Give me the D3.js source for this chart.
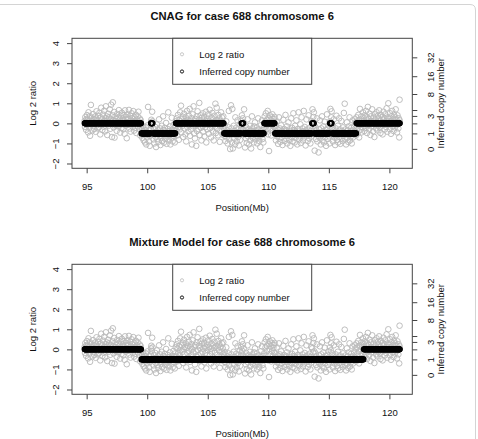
<!DOCTYPE html>
<html><head><meta charset="utf-8">
<script src="https://cdn.jsdelivr.net/npm/d3@7"></script>
<style>
html,body{margin:0;padding:0;background:#fff;}
svg{display:block;font-family:"Liberation Sans",Arial,Helvetica,sans-serif;}
</style></head><body>
<svg id="chart" width="478" height="439"></svg>
<script>
// ---------------- DATA ----------------
const panelTitles = ["CNAG for case 688 chromosome 6", "Mixture Model for case 688 chromosome 6"];
const xAxisTitle = "Position(Mb)";
const yAxisTitle = "Log 2 ratio";
const y2AxisTitle = "Inferred copy number";
const legendLabels = ["Log 2 ratio", "Inferred copy number"];
const xTicks = [95, 100, 105, 110, 115, 120];
const yTicks = [-2, -1, 0, 1, 2, 3, 4];
const cnTicks = [0, 1, 2, 3, 4, 8, 16, 32];
const cnTickLabels = ["0", "1", "", "3", "", "8", "16", "32"];
const xLimits = [94.83, 120.85];
const yLimits = [-2, 4];
const tumourFraction = 2 - Math.SQRT2;

// probe positions (Mb) and log2 ratios (same probes in both panels)
const probePositions = [
94.83,94.86,94.89,94.92,94.95,94.99,95.02,95.05,95.08,95.12,95.15,95.18,95.22,95.25,95.28,95.31,95.35,95.38,95.42,95.46,95.49,95.53,95.56,95.6,95.63,95.67,95.7,95.74,95.77,95.81,95.84,95.88,95.91,95.95,95.98,
96.02,96.05,96.09,96.12,96.16,96.2,96.23,96.27,96.3,96.34,96.37,96.41,96.45,96.48,96.52,96.55,96.59,96.62,96.66,96.7,96.73,96.77,96.8,96.84,96.88,96.91,96.95,96.98,
97.02,97.05,97.09,97.13,97.16,97.2,97.23,97.27,97.3,97.34,97.38,97.41,97.45,97.48,97.52,97.55,97.59,97.63,97.66,97.7,97.73,97.77,97.81,97.84,97.88,97.91,97.95,97.99,
98.02,98.06,98.09,98.13,98.17,98.2,98.24,98.27,98.31,98.35,98.38,98.42,98.45,98.49,98.53,98.56,98.6,98.63,98.67,98.71,98.74,98.78,98.81,98.85,98.89,98.92,98.96,98.99,
99.03,99.06,99.1,99.14,99.17,99.21,99.24,99.28,99.31,99.35,99.39,99.42,99.46,99.49,
99.53,99.57,99.6,99.64,99.67,99.71,99.74,99.78,99.82,99.85,99.89,99.92,99.96,100.0,100.03,100.07,100.1,100.14,100.17,100.21,100.25,100.28,
100.31,100.34,100.37,100.41,100.44,100.48,100.52,100.55,100.59,100.62,100.66,100.7,100.73,100.77,100.8,100.84,100.88,100.91,100.95,100.98,
101.02,101.06,101.09,101.13,101.16,101.2,101.24,101.27,101.31,101.34,101.38,101.42,101.45,101.49,101.52,101.56,101.6,101.63,101.67,101.7,101.74,101.78,101.81,101.85,101.88,101.92,101.96,101.99,
102.03,102.06,102.1,102.14,102.17,102.21,102.25,102.28,102.32,
102.36,102.4,102.43,102.47,102.5,102.54,102.57,102.61,102.65,102.68,102.72,102.75,102.79,102.82,102.86,102.9,102.93,102.97,
103.0,103.04,103.08,103.11,103.15,103.18,103.22,103.26,103.29,103.33,103.36,103.4,103.44,103.47,103.51,103.54,103.58,103.62,103.65,103.69,103.72,103.76,103.8,103.83,103.87,103.9,103.94,103.98,
104.01,104.05,104.08,104.12,104.16,104.19,104.23,104.26,104.3,104.34,104.37,104.41,104.44,104.48,104.52,104.55,104.59,104.62,104.66,104.7,104.73,104.77,104.8,104.84,104.88,104.91,104.95,104.98,
105.02,105.06,105.09,105.13,105.16,105.2,105.24,105.27,105.31,105.34,105.38,105.42,105.45,105.49,105.52,105.56,105.6,105.63,105.67,105.7,105.74,105.78,105.81,105.85,105.88,105.92,105.96,105.99,
106.03,106.06,106.1,106.14,106.17,106.21,106.24,106.28,106.31,
106.35,106.38,106.42,106.46,106.49,106.53,106.56,106.6,106.64,106.67,106.71,106.74,106.78,106.82,106.85,106.89,106.92,106.96,
107.0,107.03,107.07,107.1,107.14,107.18,107.21,107.25,107.28,107.32,107.36,107.39,107.43,107.46,107.5,107.54,107.57,107.61,107.64,107.68,107.72,107.75,107.79,107.82,107.86,107.9,107.93,107.97,
108.0,108.04,108.08,108.11,108.15,108.18,108.22,108.26,108.29,108.33,108.36,108.4,108.44,108.47,108.51,108.54,108.58,108.62,108.65,108.69,108.72,108.76,108.8,108.83,108.87,108.9,108.94,108.98,
109.01,109.05,109.08,109.12,109.16,109.19,109.23,109.26,109.3,109.34,109.37,109.41,109.44,109.48,109.52,109.55,109.59,109.62,
109.66,109.7,109.73,109.77,109.8,109.84,109.88,109.91,109.95,109.98,110.02,110.06,110.09,110.13,110.16,110.2,110.24,110.27,110.31,110.34,110.38,110.42,110.45,110.49,110.52,
110.56,110.6,110.63,110.67,110.7,110.74,110.77,110.81,110.85,110.88,110.92,110.95,110.99,
111.03,111.06,111.1,111.13,111.17,111.21,111.24,111.28,111.31,111.35,111.39,111.42,111.46,111.49,111.53,111.57,111.6,111.64,111.67,111.71,111.75,111.78,111.82,111.85,111.89,111.93,111.96,
112.0,112.03,112.07,112.11,112.14,112.18,112.21,112.25,112.29,112.32,112.36,112.39,112.43,112.47,112.5,112.54,112.57,112.61,112.65,112.68,112.72,112.75,112.79,112.83,112.86,112.9,112.93,112.97,
113.01,113.04,113.08,113.11,113.15,113.19,113.22,113.26,113.29,113.33,113.37,113.4,113.44,113.47,113.51,113.55,113.58,113.62,113.65,113.69,113.72,113.76,113.8,113.83,113.87,113.9,113.94,113.97,
114.01,114.05,114.08,114.12,114.15,114.19,114.23,114.26,114.3,114.33,114.37,114.41,114.44,114.48,114.51,114.55,114.59,114.62,114.66,114.69,114.73,114.77,114.8,114.84,114.87,114.91,114.95,114.98,
115.02,115.05,115.09,115.13,115.16,115.2,115.23,115.27,115.31,115.34,115.38,115.41,115.45,115.49,115.52,115.56,115.59,115.63,115.67,115.7,115.74,115.77,115.81,115.85,115.88,115.92,115.95,115.99,
116.03,116.06,116.1,116.13,116.17,116.21,116.24,116.28,116.31,116.35,116.39,116.42,116.46,116.49,116.53,116.57,116.6,116.64,116.67,116.71,116.75,116.78,116.82,116.85,116.89,116.93,116.96,
117.0,117.03,117.07,117.1,117.14,117.17,117.21,117.25,117.28,117.32,117.35,117.39,117.43,117.46,117.5,117.53,117.57,117.61,117.64,117.68,117.71,117.75,117.79,117.82,117.86,117.89,117.93,117.97,
118.0,118.04,118.07,118.11,118.15,118.18,118.22,118.25,118.29,118.33,118.36,118.4,118.43,118.47,118.51,118.54,118.58,118.61,118.65,118.69,118.72,118.76,118.79,118.83,118.87,118.9,118.94,118.97,
119.01,119.05,119.08,119.12,119.15,119.19,119.23,119.26,119.3,119.33,119.37,119.41,119.44,119.48,119.51,119.55,119.59,119.62,119.66,119.69,119.73,119.77,119.8,119.84,119.87,119.91,119.95,119.98,
120.02,120.05,120.09,120.13,120.16,120.2,120.23,120.27,120.31,120.34,120.38,120.41,120.45,120.49,120.52,120.56,120.59,120.63,120.67,120.7,120.74,120.77,120.81,120.84,120.85
];
const log2Ratios = [
0.12,-0.18,0.31,0.05,-0.32,0.22,0.41,-0.08,0.18,-0.45,0.55,0.02,-0.21,0.36,-0.62,0.14,0.92,-0.05,0.27,-0.35,0.08,0.46,-0.14,0.19,-0.28,0.33,0.01,-0.42,0.24,0.6,-0.1,0.15,-0.25,0.38,0.03,
-0.19,0.52,0.1,-0.55,0.29,0.78,-0.06,0.2,-0.33,0.44,0.07,-0.16,0.63,0.12,-0.4,0.26,0.85,-0.02,0.35,-0.58,0.17,0.48,-0.12,0.3,0.04,0.7,-0.27,0.21,
0.93,0.09,-0.68,0.4,1.05,0.16,-0.2,0.57,-0.71,0.11,0.34,-0.09,0.25,-0.37,0.47,0.06,-0.15,0.28,0.66,-0.04,0.19,-0.46,0.38,0.1,-0.23,0.53,0.0,0.23,
-0.3,0.42,0.13,-0.52,0.65,0.05,-0.11,0.32,-0.74,0.18,0.45,-0.07,0.22,0.67,-0.26,0.09,0.37,-0.41,0.14,0.5,-0.03,0.26,-0.18,0.61,0.07,-0.36,0.3,0.12,
-0.22,0.43,-0.48,0.2,0.02,0.35,-0.15,0.58,0.1,-0.29,0.24,-0.6,0.16,-0.05,
-0.55,-0.28,-0.72,-0.4,-0.15,-0.85,-0.5,-0.33,-0.95,-0.6,-0.2,-1.05,-0.44,-0.7,-0.1,0.82,-0.58,-0.9,-0.36,-1.12,-0.62,-0.25,
0.05,0.18,-0.08,0.58,0.1,-0.47,-0.8,-0.3,-1.0,-0.52,-0.18,-0.68,-1.18,-0.41,-0.05,-0.77,-0.35,-0.92,-0.55,0.2,
-0.64,-0.25,-1.08,-0.45,-0.7,-0.12,-0.88,-0.5,0.35,-0.33,-0.96,-0.6,-0.22,-0.78,-0.4,0.02,-1.02,-0.48,-0.66,-0.28,0.55,-0.85,-0.38,-0.58,-0.15,-1.05,-0.44,-0.72,
0.28,-0.32,-0.9,-0.52,-0.08,-0.63,-0.37,-0.95,-0.2,
0.1,-0.35,0.25,-0.6,0.05,0.42,-0.18,-0.82,0.15,-0.3,0.55,-0.05,0.88,-0.45,0.2,-0.12,0.33,-0.68,
0.02,0.48,-0.25,0.12,-0.55,0.3,-0.9,0.07,0.62,-0.2,0.18,-0.4,0.38,-0.08,0.72,-0.62,0.1,-0.3,0.26,-1.05,0.0,0.45,-0.15,0.85,-0.5,0.14,-0.75,0.22,
-0.1,-1.12,0.35,-0.38,0.6,-0.02,-0.28,0.18,1.02,-0.58,0.08,0.4,-0.22,-0.85,0.28,-0.12,0.5,-0.42,0.04,0.32,-0.65,0.15,-0.18,0.58,-0.95,0.1,-0.3,0.24,
-0.05,0.45,-0.52,0.12,0.68,-0.24,0.03,-0.7,0.3,-0.1,0.52,-0.4,0.2,-0.85,0.06,0.38,-0.16,0.98,-0.48,0.15,0.78,-0.28,0.09,-0.6,0.42,-0.05,0.25,-0.92,
0.12,-0.35,0.55,-0.14,0.3,-0.55,0.05,0.35,-0.22,
-0.3,-0.62,-0.15,-0.88,-0.45,0.1,-0.7,-0.35,-1.0,-0.52,-0.2,0.62,-0.8,-0.4,-1.28,-0.58,0.9,-0.25,
-0.95,0.72,-1.25,-0.48,-0.12,-0.75,-0.38,-1.05,0.3,-0.6,-0.22,-0.9,-0.45,0.15,-0.68,-0.3,-1.1,-0.5,-0.05,-0.82,-0.35,0.12,-0.2,0.4,-0.08,0.25,-0.3,0.05,
0.7,-0.55,-1.2,-0.4,-0.75,-0.18,-0.98,-0.5,0.2,-0.65,-0.3,-1.05,-0.45,-0.12,-0.85,-0.38,-1.25,-0.6,0.35,-0.25,-0.72,-0.42,-0.95,-0.15,-0.55,0.05,-0.8,-0.35,
-0.62,-0.2,-1.0,-0.48,0.25,-0.7,-0.3,-0.88,-0.52,-1.18,-0.1,-0.6,-0.4,0.15,-0.78,-0.33,-0.95,-0.5,
-0.2,0.35,-0.45,0.1,0.5,-0.3,0.18,-0.08,0.62,-0.55,0.25,-1.38,0.02,0.4,-0.25,0.15,-0.6,0.3,-0.1,0.45,-0.35,0.08,0.22,-0.18,0.32,
-0.5,-0.2,-0.85,-0.4,0.1,-0.65,-0.3,-1.02,-0.48,0.3,-0.75,-0.25,-0.92,
-0.55,-0.1,-0.7,-0.38,-1.08,-0.45,0.18,-0.6,-0.28,-0.88,-0.52,0.42,-0.35,-0.78,-0.15,-1.0,-0.45,-0.62,0.05,-0.82,-0.3,-0.55,-1.12,-0.4,0.25,-0.68,-0.22,
-0.9,-0.48,0.5,-0.6,-0.33,-0.95,-0.12,-0.72,-0.42,0.15,-0.58,-1.05,-0.28,-0.5,0.55,-0.8,-0.36,-0.65,-0.05,-0.98,-0.45,0.3,-0.62,-0.25,-0.85,-0.4,0.62,-0.7,
-0.18,-0.52,-1.1,-0.35,0.2,-0.6,-0.3,-0.88,-0.45,0.4,-0.75,-0.22,-0.55,-1.0,-0.38,0.12,-0.65,0.05,0.7,-0.15,0.32,0.55,-0.1,-1.36,-0.5,-0.2,-0.78,-0.35,
0.25,-0.9,-0.45,-0.62,-1.45,-0.3,-0.72,0.15,-0.52,-1.05,-0.25,-0.6,0.35,-0.85,-0.4,-0.15,-0.95,-0.48,0.08,-0.7,-0.32,-1.12,-0.55,0.45,-0.28,-0.78,-0.42,-0.1,
-0.65,-1.0,0.1,0.72,-0.05,0.3,0.6,-0.2,-0.58,-0.9,-0.35,0.2,-0.7,-0.42,-1.08,-0.25,-0.6,0.38,-0.82,-0.45,-0.12,-0.95,-0.5,0.25,-0.68,-0.3,-1.02,-0.55,
0.12,-0.75,-0.38,-0.88,-0.2,-0.62,0.52,-0.45,0.98,-0.8,-0.3,-1.05,-0.5,0.05,-0.72,-0.35,-0.92,-0.15,-0.58,0.3,-0.85,-0.4,-0.65,-0.22,-1.0,-0.48,0.15,
-0.7,-0.32,-0.55,-0.15,0.2,-0.42,0.05,-0.6,0.3,-0.25,0.1,-0.5,0.42,-0.1,-0.7,0.18,0.72,-0.32,0.0,0.35,-0.45,0.12,-0.2,0.55,-0.05,0.25,-0.38,0.4,
0.08,-0.22,0.62,0.15,-0.48,0.3,0.82,-0.1,0.22,-0.3,0.48,0.05,-0.58,0.35,0.12,-0.15,0.7,0.02,-0.4,0.28,0.1,-0.68,0.45,-0.05,0.2,-0.25,0.55,0.08,
-0.35,0.38,-0.12,0.25,0.65,-0.2,0.14,-0.48,0.42,0.02,-0.1,0.32,-0.55,0.18,0.58,-0.08,0.27,-0.3,0.45,0.06,-0.18,0.75,0.12,-0.42,0.3,1.0,-0.05,0.22,
-0.28,0.5,0.1,-0.52,0.35,0.03,0.62,-0.15,0.2,-0.38,0.44,0.08,-0.2,0.3,0.7,-0.1,0.18,-0.45,0.4,0.05,-0.25,0.25,-0.7,1.18,0.15
];

// segments: [start Mb, end Mb, copy number]
const cnagSegments = [
[94.8,99.5,2],[99.5,100.3,1],[100.3,100.46,2],[100.46,102.34,1],[102.34,106.33,2],
[106.33,107.78,1],[107.78,107.95,2],[107.95,109.64,1],[109.64,110.54,2],[110.54,113.6,1],
[113.6,113.78,2],[113.78,115.08,1],[115.08,115.25,2],[115.25,117.26,1],[117.26,120.9,2]
];
const mixtureSegments = [[94.8,99.5,2],[99.5,117.88,1],[117.88,120.9,2]];
const panelSegments = [cnagSegments, mixtureSegments];

// ---------------- DRAW ----------------
const svg = d3.select("#chart");
const W = 478, H = 439;
const box = {left: 72, right: 412.3, top: 38.3, bottom: 168.3};
const panelOffset = 226;
const txt = "#111", axisCol = "#444";

const cnToLog = c => Math.log2((2 + tumourFraction * (c - 2)) / 2);

const xPad = 0.04 * (xLimits[1] - xLimits[0]);
const yPad = 0.04 * (yLimits[1] - yLimits[0]);
const x = d3.scaleLinear().domain([xLimits[0] - xPad, xLimits[1] + xPad]).range([box.left, box.right]);
const y = d3.scaleLinear().domain([yLimits[0] - yPad, yLimits[1] + yPad]).range([box.bottom, box.top]);

// light outer frame
svg.append("path")
  .attr("d", `M0,4.5 H470 Q475.5,4.5 475.5,10 V${H}`)
  .attr("fill", "none").attr("stroke", "#d4d4d4").attr("stroke-width", 1);

const probes = probePositions.map((p, i) => ({pos: p, val: log2Ratios[i]}));

function cnAt(segs, p) {
  for (const s of segs) if (p >= s[0] && p < s[1]) return s[2];
  return null;
}

panelTitles.forEach((title, pi) => {
  const g = svg.append("g").attr("transform", `translate(0,${pi * panelOffset})`);
  const segs = panelSegments[pi];

  // title
  g.append("text").attr("x", (box.left + box.right) / 2).attr("y", 20)
    .attr("text-anchor", "middle").attr("font-weight", "bold").attr("font-size", 11.2)
    .attr("fill", txt).text(title);

  // log2 ratio points
  g.append("g").selectAll("circle").data(probes).join("circle")
    .attr("cx", d => x(d.pos)).attr("cy", d => y(d.val)).attr("r", 2.8)
    .attr("fill", "none").attr("stroke", "#bababa").attr("stroke-width", 0.95);

  // inferred copy number points
  const cnPts = probes.map(d => ({pos: d.pos, cn: cnAt(segs, d.pos)})).filter(d => d.cn !== null);
  g.append("g").selectAll("circle").data(cnPts).join("circle")
    .attr("cx", d => x(d.pos)).attr("cy", d => y(cnToLog(d.cn))).attr("r", 2.5)
    .attr("fill", "none").attr("stroke", "#000").attr("stroke-width", 1.1);

  // box
  g.append("rect").attr("x", box.left).attr("y", box.top)
    .attr("width", box.right - box.left).attr("height", box.bottom - box.top)
    .attr("fill", "none").attr("stroke", axisCol).attr("stroke-width", 1);

  // bottom axis
  const gx = g.append("g").attr("transform", `translate(0,${box.bottom})`)
    .call(d3.axisBottom(x).tickValues(xTicks).tickSize(5).tickSizeOuter(0).tickFormat(d3.format("d")));
  gx.select(".domain").remove();
  gx.selectAll(".tick line").attr("stroke", axisCol);
  gx.selectAll(".tick text").attr("y", 21.5).attr("dy", 0).attr("fill", txt)
    .attr("font-size", 9.5).attr("font-family", "Liberation Sans, Arial, sans-serif");

  // left axis
  const gy = g.append("g").attr("transform", `translate(${box.left},0)`)
    .call(d3.axisLeft(y).tickValues(yTicks).tickSize(5).tickSizeOuter(0).tickFormat(d3.format("d")));
  gy.select(".domain").remove();
  gy.selectAll(".tick line").attr("stroke", axisCol);
  gy.selectAll(".tick text").attr("x", 0).attr("dy", 0).attr("text-anchor", "middle")
    .attr("transform", "translate(-13.5,0) rotate(-90)").attr("fill", txt)
    .attr("font-size", 9.5).attr("font-family", "Liberation Sans, Arial, sans-serif")
    .text(d => d < 0 ? "\u2212" + Math.abs(d) : d);

  // right axis (copy number)
  const cnPos = cnTicks.map(cnToLog);
  const gy2 = g.append("g").attr("transform", `translate(${box.right},0)`)
    .call(d3.axisRight(y).tickValues(cnPos).tickSize(5).tickSizeOuter(0)
      .tickFormat((d, i) => cnTickLabels[i]));
  gy2.select(".domain").remove();
  gy2.selectAll(".tick line").attr("stroke", axisCol);
  gy2.selectAll(".tick text").attr("x", 0).attr("dy", 0).attr("text-anchor", "middle")
    .attr("transform", "translate(21.7,0) rotate(-90)").attr("fill", txt)
    .attr("font-size", 9.5).attr("font-family", "Liberation Sans, Arial, sans-serif");

  // axis titles
  const midY = (box.top + box.bottom) / 2;
  g.append("text").attr("transform", `translate(35.5,${midY}) rotate(-90)`)
    .attr("text-anchor", "middle").attr("font-size", 9.5).attr("fill", txt).text(yAxisTitle);
  g.append("text").attr("transform", `translate(444,${midY}) rotate(-90)`)
    .attr("text-anchor", "middle").attr("font-size", 9.5).attr("fill", txt).text(y2AxisTitle);
  g.append("text").attr("x", (box.left + box.right) / 2).attr("y", 211)
    .attr("text-anchor", "middle").attr("font-size", 9.5).attr("fill", txt).text(xAxisTitle);

  // legend
  const lg = g.append("g");
  lg.append("rect").attr("x", 172.7).attr("y", box.top).attr("width", 139).attr("height", 46)
    .attr("fill", "#fff").attr("stroke", axisCol).attr("stroke-width", 1);
  const legendStroke = ["#c2c2c2", "#000"];
  legendLabels.forEach((lab, i) => {
    const ly = 54.3 + i * 17.2;
    lg.append("circle").attr("cx", 182).attr("cy", ly).attr("r", 1.6)
      .attr("fill", "none").attr("stroke", legendStroke[i]).attr("stroke-width", 0.9);
    lg.append("text").attr("x", 199.3).attr("y", ly + 3.3).attr("font-size", 9.5)
      .attr("fill", txt).text(lab);
  });
});
</script>
</body></html>
